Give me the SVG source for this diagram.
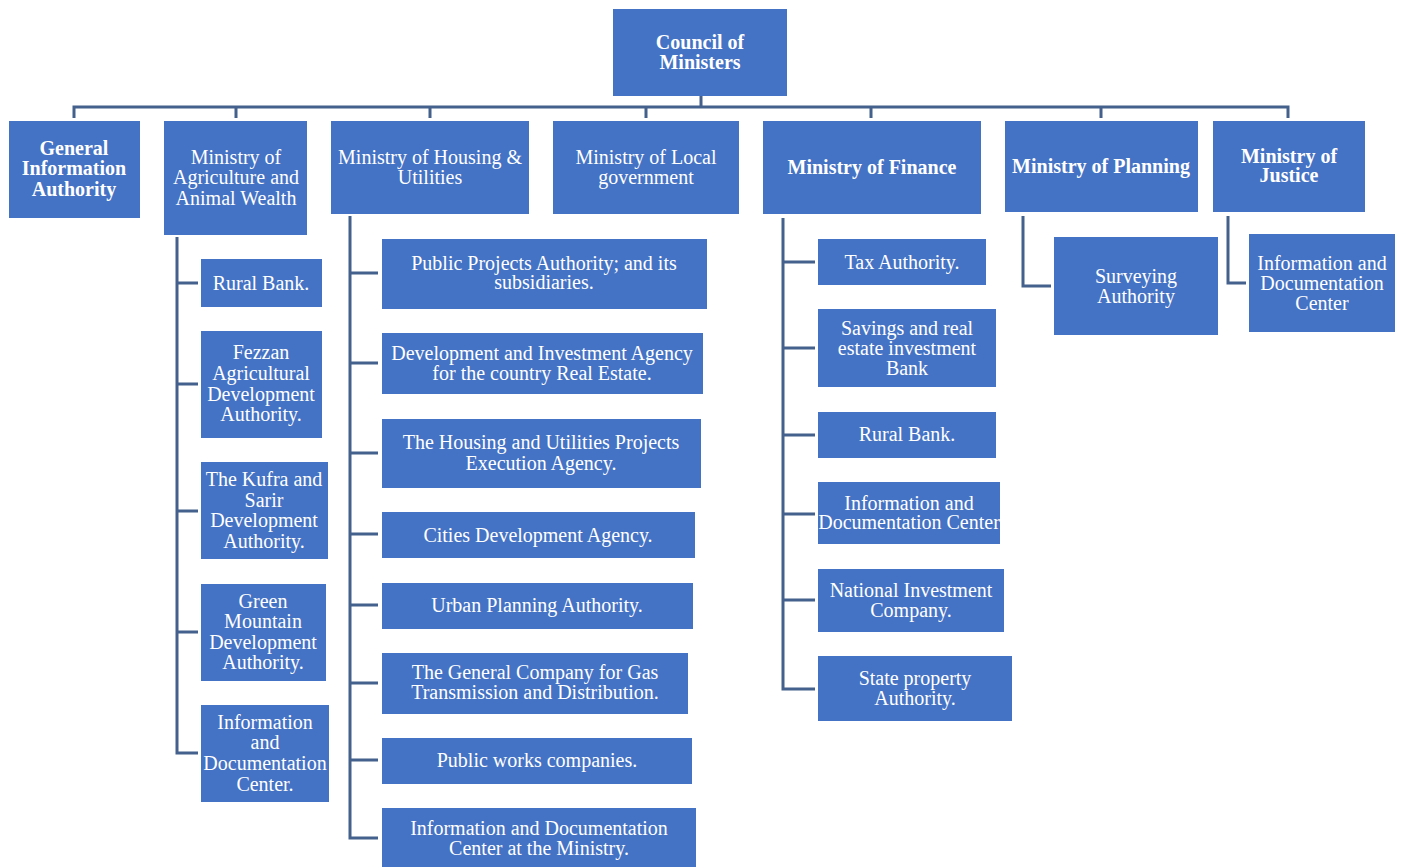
<svg xmlns="http://www.w3.org/2000/svg" width="1405" height="867" viewBox="0 0 1405 867">
<style>
.b{fill:#4472C4;}
.t{font-family:"Liberation Serif","Times New Roman",serif;font-size:20px;fill:#FFFFFF;text-anchor:middle;}
.bd{font-weight:bold;}
.c{fill:none;stroke:#44608C;stroke-width:3;stroke-linejoin:miter;stroke-linecap:butt;}
</style>
<rect width="1405" height="867" fill="#FFFFFF"/>
<g id="connectors">
<path class="c" d="M74,118 V107 H1288 V118 M236,107 V118 M430,107 V118 M646,107 V118 M871,107 V118 M1101,107 V118 M701,96 V107"/>
<path class="c" d="M177,237 V753 H198 M177,283 H198 M177,384 H198 M177,511 H198 M177,632 H198"/>
<path class="c" d="M350,216 V838 H378 M350,273 H378 M350,363 H378 M350,453 H378 M350,534 H378 M350,605 H378 M350,683 H378 M350,760 H378"/>
<path class="c" d="M783,218 V689 H815 M783,262 H815 M783,348 H815 M783,435 H815 M783,514 H815 M783,600 H815"/>
<path class="c" d="M1023,216 V286 H1051"/>
<path class="c" d="M1228,216 V283 H1246"/>
</g>
<g id="council"><rect class="b" x="613" y="9" width="174" height="87"/><text class="t bd" x="700" y="49">Council of</text><text class="t bd" x="700" y="69">Ministers</text></g>
<g id="gia"><rect class="b" x="9" y="121" width="131" height="97"/><text class="t bd" x="74" y="155">General</text><text class="t bd" x="74" y="175">Information</text><text class="t bd" x="74" y="196">Authority</text></g>
<g id="agri"><rect class="b" x="164" y="121" width="143" height="114"/><text class="t" x="236" y="164">Ministry of</text><text class="t" x="236" y="184">Agriculture and</text><text class="t" x="236" y="205">Animal Wealth</text></g>
<g id="housing"><rect class="b" x="331" y="121" width="198" height="93"/><text class="t" x="430" y="164">Ministry of Housing &amp;</text><text class="t" x="430" y="184">Utilities</text></g>
<g id="local"><rect class="b" x="553" y="121" width="186" height="93"/><text class="t" x="646" y="164">Ministry of Local</text><text class="t" x="646" y="184">government</text></g>
<g id="finance"><rect class="b" x="763" y="121" width="218" height="93"/><text class="t bd" x="872" y="174">Ministry of Finance</text></g>
<g id="planning"><rect class="b" x="1005" y="121" width="193" height="91"/><text class="t bd" x="1101" y="173">Ministry of Planning</text></g>
<g id="justice"><rect class="b" x="1213" y="121" width="152" height="91"/><text class="t bd" x="1289" y="163">Ministry of</text><text class="t bd" x="1289" y="182">Justice</text></g>
<g id="surveying"><rect class="b" x="1054" y="237" width="164" height="98"/><text class="t" x="1136" y="283">Surveying</text><text class="t" x="1136" y="303">Authority</text></g>
<g id="justice-info"><rect class="b" x="1249" y="234" width="146" height="98"/><text class="t" x="1322" y="270">Information and</text><text class="t" x="1322" y="290">Documentation</text><text class="t" x="1322" y="310">Center</text></g>
<g id="agri-rural"><rect class="b" x="201" y="259" width="121" height="48"/><text class="t" x="261" y="290">Rural Bank.</text></g>
<g id="agri-fezzan"><rect class="b" x="201" y="331" width="121" height="107"/><text class="t" x="261" y="359">Fezzan</text><text class="t" x="261" y="380">Agricultural</text><text class="t" x="261" y="401">Development</text><text class="t" x="261" y="421">Authority.</text></g>
<g id="agri-kufra"><rect class="b" x="201" y="462" width="127" height="97"/><text class="t" x="264" y="486">The Kufra and</text><text class="t" x="264" y="507">Sarir</text><text class="t" x="264" y="527">Development</text><text class="t" x="264" y="548">Authority.</text></g>
<g id="agri-green"><rect class="b" x="201" y="584" width="125" height="97"/><text class="t" x="263" y="608">Green</text><text class="t" x="263" y="628">Mountain</text><text class="t" x="263" y="649">Development</text><text class="t" x="263" y="669">Authority.</text></g>
<g id="agri-info"><rect class="b" x="201" y="705" width="128" height="97"/><text class="t" x="265" y="729">Information</text><text class="t" x="265" y="749">and</text><text class="t" x="265" y="770">Documentation</text><text class="t" x="265" y="791">Center.</text></g>
<g id="h-public-projects"><rect class="b" x="382" y="239" width="325" height="70"/><text class="t" x="544" y="270">Public Projects Authority; and its</text><text class="t" x="544" y="289">subsidiaries.</text></g>
<g id="h-dev"><rect class="b" x="382" y="333" width="321" height="61"/><text class="t" x="542" y="360">Development and Investment Agency</text><text class="t" x="542" y="380">for the country Real Estate.</text></g>
<g id="h-exec"><rect class="b" x="382" y="419" width="319" height="69"/><text class="t" x="541" y="449">The Housing and Utilities Projects</text><text class="t" x="541" y="470">Execution Agency.</text></g>
<g id="h-cities"><rect class="b" x="382" y="512" width="313" height="46"/><text class="t" x="538" y="542">Cities Development Agency.</text></g>
<g id="h-urban"><rect class="b" x="382" y="583" width="311" height="46"/><text class="t" x="537" y="612">Urban Planning Authority.</text></g>
<g id="h-gas"><rect class="b" x="382" y="653" width="306" height="61"/><text class="t" x="535" y="679">The General Company for Gas</text><text class="t" x="535" y="699">Transmission and Distribution.</text></g>
<g id="h-works"><rect class="b" x="382" y="738" width="310" height="46"/><text class="t" x="537" y="767">Public works companies.</text></g>
<g id="h-info"><rect class="b" x="382" y="808" width="314" height="59"/><text class="t" x="539" y="835">Information and Documentation</text><text class="t" x="539" y="855">Center at the Ministry.</text></g>
<g id="f-tax"><rect class="b" x="818" y="239" width="168" height="46"/><text class="t" x="902" y="269">Tax Authority.</text></g>
<g id="f-savings"><rect class="b" x="818" y="309" width="178" height="78"/><text class="t" x="907" y="335">Savings and real</text><text class="t" x="907" y="355">estate investment</text><text class="t" x="907" y="375">Bank</text></g>
<g id="f-rural"><rect class="b" x="818" y="412" width="178" height="46"/><text class="t" x="907" y="441">Rural Bank.</text></g>
<g id="f-info"><rect class="b" x="818" y="482" width="182" height="62"/><text class="t" x="909" y="510">Information and</text><text class="t" x="909" y="529">Documentation Center</text></g>
<g id="f-national"><rect class="b" x="818" y="569" width="186" height="63"/><text class="t" x="911" y="597">National Investment</text><text class="t" x="911" y="617">Company.</text></g>
<g id="f-state"><rect class="b" x="818" y="656" width="194" height="65"/><text class="t" x="915" y="685">State property</text><text class="t" x="915" y="705">Authority.</text></g>
</svg>
